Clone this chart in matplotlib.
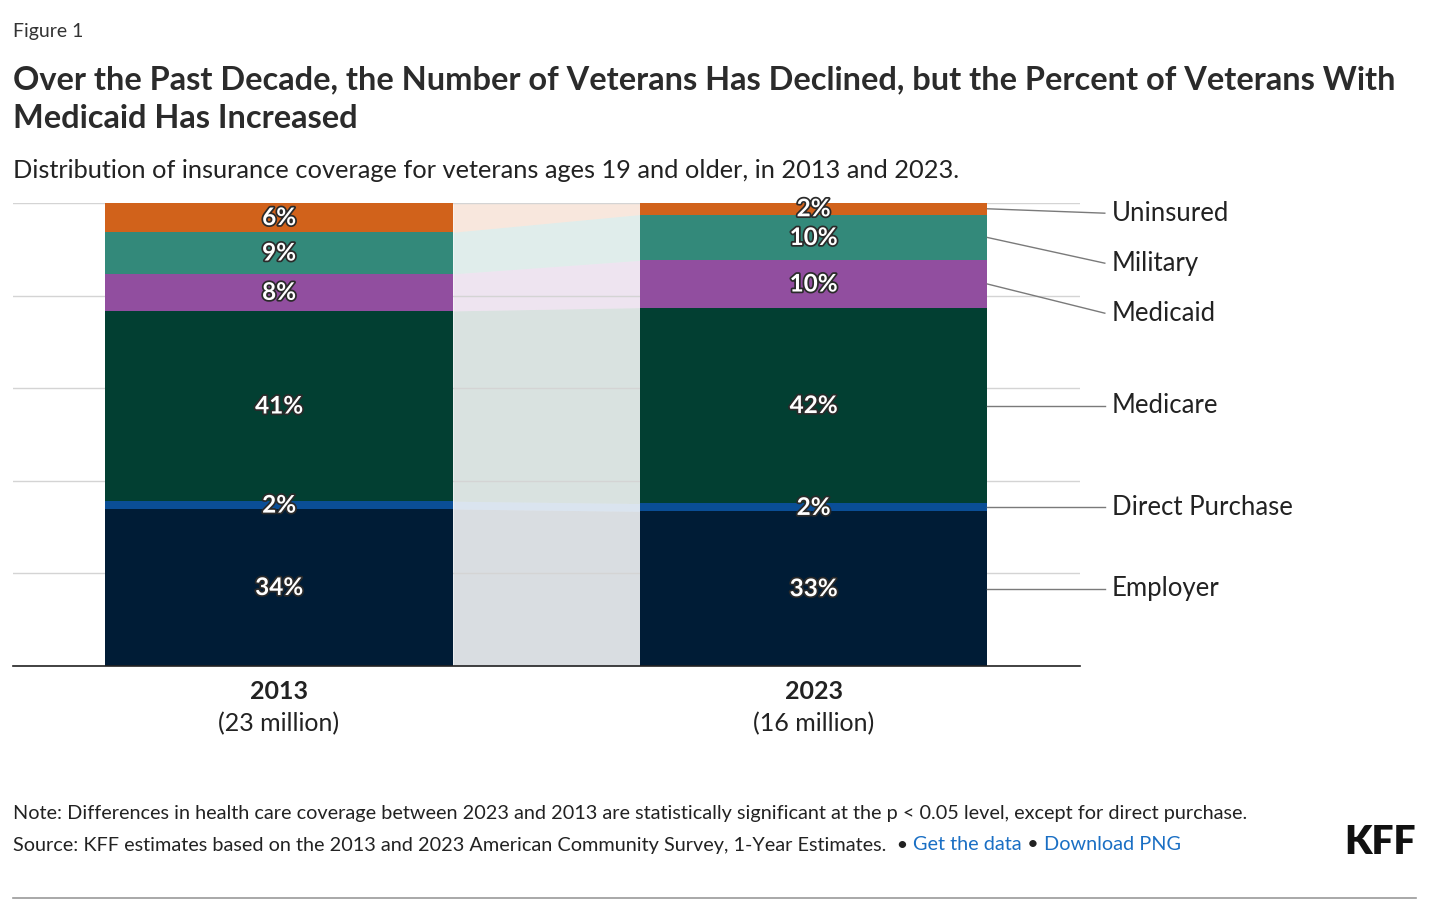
import matplotlib
matplotlib.use("Agg")
import matplotlib.pyplot as plt
import matplotlib.patheffects as pe

plt.rcParams['font.family'] = ['Lato', 'DejaVu Sans']

# data, bottom segment first
categories = ["Employer", "Direct Purchase", "Medicare", "Medicaid", "Military", "Uninsured"]
years = ["2013", "2023"]
year_notes = ["(23 million)", "(16 million)"]
share_2013 = [33.9, 1.7, 41.1, 8.0, 9.0, 6.3]
share_2023 = [33.4, 1.7, 42.3, 10.2, 9.9, 2.5]
colors = ["#001C36", "#0A4E96", "#023F32", "#914E9F", "#33897A", "#D1621B"]

fig = plt.figure(figsize=(14.56, 9.10), dpi=100)
ax = fig.add_axes([13 / 1456, 1 - 666 / 910, (1080 - 13) / 1456, (666 - 203) / 910])

width = 0.651
xs = [0, 1]
series = [share_2013, share_2023]

bottoms = [0, 0]
for i, cat in enumerate(categories):
    vals = [series[0][i], series[1][i]]
    ax.bar(xs, vals, width, bottom=bottoms, color=colors[i], zorder=3)
    # connector band between the two bars
    x1 = xs[0] + width / 2
    x2 = xs[1] - width / 2
    ax.fill_between([x1, x2], [bottoms[0], bottoms[1]],
                    [bottoms[0] + vals[0], bottoms[1] + vals[1]],
                    color=colors[i], alpha=0.15, lw=0, zorder=1)
    for j in range(2):
        ax.text(xs[j], bottoms[j] + vals[j] / 2, f"{round(vals[j])}%",
                ha="center", va="center", color="white", fontsize=17.5,
                fontweight="bold", zorder=5,
                path_effects=[pe.withStroke(linewidth=2.5, foreground="#2a2a2a")])
    bottoms = [bottoms[0] + vals[0], bottoms[1] + vals[1]]

# right-hand labels with leader lines, nudged apart from the top down
mids = []
b = 0
for v in share_2023:
    mids.append(b + v / 2)
    b += v
label_y = [0] * len(categories)
prev = 108.6
for i in range(len(categories) - 1, -1, -1):
    y = min(mids[i], prev - 10.8)
    label_y[i] = y
    prev = y
edge = xs[1] + width / 2
for i, cat in enumerate(categories):
    ax.plot([edge, 1.545], [mids[i], label_y[i]], color="#7a7a7a", lw=1,
            clip_on=False, zorder=4)
    ax.text(1.558, label_y[i], cat, ha="left", va="center", fontsize=18.5,
            color="#222222", clip_on=False)

ax.set_xlim(-0.4977, 1.4986)
ax.set_ylim(0, 100)
ax.set_yticks([0, 20, 40, 60, 80, 100])
ax.yaxis.grid(True, color="#d4d4d4", lw=1, zorder=2)
ax.set_axisbelow(False)
ax.tick_params(left=False, bottom=False, labelleft=False, labelbottom=False)
for s in ["top", "right", "left"]:
    ax.spines[s].set_visible(False)
ax.spines["bottom"].set_color("#222222")
ax.spines["bottom"].set_linewidth(1.2)
ax.spines["bottom"].set_zorder(6)

for j in range(2):
    ax.text(xs[j], -3.1, years[j], ha="center", va="top", fontsize=18,
            fontweight="bold", color="#222222")
    ax.text(xs[j], -10.0, year_notes[j], ha="center", va="top", fontsize=18,
            color="#222222")

# titles and notes
fig.text(13 / 1456, 1 - 32 / 910, "Figure 1", fontsize=14, color="#333333", va="center")
fig.text(13 / 1456, 1 - 99 / 910,
         "Over the Past Decade, the Number of Veterans Has Declined, but the Percent of Veterans With\nMedicaid Has Increased",
         fontsize=23.4, fontweight="bold", color="#2b2b2b", va="center", linespacing=1.42)
fig.text(13 / 1456, 1 - 171 / 910,
         "Distribution of insurance coverage for veterans ages 19 and older, in 2013 and 2023.",
         fontsize=18.3, color="#222222", va="center")
fig.text(13 / 1456, 1 - 813 / 910,
         "Note: Differences in health care coverage between 2023 and 2013 are statistically significant at the p < 0.05 level, except for direct purchase.",
         fontsize=14.35, color="#222222", va="center")
src = fig.text(13 / 1456, 1 - 845 / 910,
               "Source: KFF estimates based on the 2013 and 2023 American Community Survey, 1-Year Estimates.  \u2022 ",
               fontsize=14.35, color="#222222", va="center")
fig.canvas.draw()
bb = src.get_window_extent()
t1 = fig.text(bb.x1 / fig.bbox.width, 1 - 845 / 910, "Get the data", fontsize=14.35,
              color="#1a6fc4", va="center")
fig.canvas.draw()
bb = t1.get_window_extent()
t2 = fig.text(bb.x1 / fig.bbox.width, 1 - 845 / 910, " \u2022 ", fontsize=14.35,
              color="#222222", va="center")
fig.canvas.draw()
bb = t2.get_window_extent()
fig.text(bb.x1 / fig.bbox.width, 1 - 845 / 910, "Download PNG", fontsize=14.35,
         color="#1a6fc4", va="center")

fig.text(1416 / 1456, 1 - 842 / 910, "KFF", fontsize=28, fontweight="heavy",
         color="#111111", ha="right", va="center")
fig.add_artist(plt.Line2D([13 / 1456, 1416 / 1456], [1 - 898 / 910, 1 - 898 / 910],
                          color="#9a9a9a", lw=1.2))

fig.savefig("out.png", dpi=100)
